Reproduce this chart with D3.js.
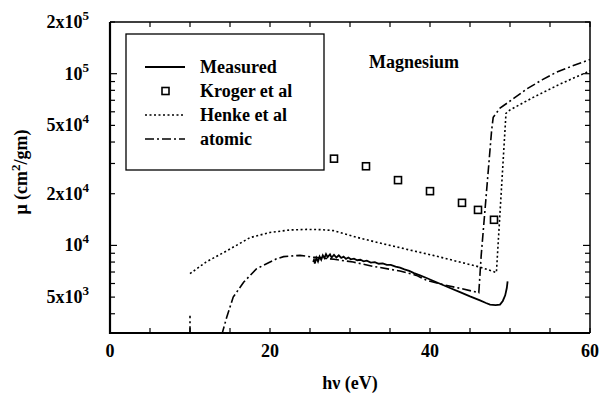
<!DOCTYPE html>
<html lang="en">
<head>
<meta charset="UTF-8">
<script src="https://cdn.jsdelivr.net/npm/d3@7"></script>
<title>Magnesium</title>
<style>
    body { margin: 0; background: white; }
    svg text { font-family: "Times New Roman", Times, "Liberation Serif", "DejaVu Serif", "Noto Serif", serif; font-weight: bold; fill: black; }
</style>
</head>
<body>
<div id="chart"></div>
<script>
    // measured absorption (noisy trace)
    const measured = [
        [25.4, 8000], [25.5, 8250], [25.6, 7850], [25.8, 8450], [26.0, 8050], [26.2, 8600],
        [26.4, 8250], [26.6, 8750], [26.8, 8450], [27.0, 8900], [27.2, 8550], [27.5, 8870],
        [27.7, 8500], [28.0, 8800], [28.3, 8500], [28.6, 8750], [28.9, 8450], [29.2, 8600],
        [29.5, 8350], [29.8, 8500], [30.1, 8300], [30.5, 8380], [30.9, 8200], [31.3, 8250],
        [31.7, 8080], [32.1, 8150], [32.6, 7950], [33.1, 8000], [33.6, 7820], [34.1, 7850],
        [34.6, 7700], [35.1, 7700], [35.7, 7520], [36.25, 7420], [36.8, 7250], [37.4, 7100],
        [38.0, 6900], [38.75, 6690], [39.5, 6480], [40.3, 6250], [41.25, 5980], [42.5, 5650],
        [43.75, 5350], [45.0, 5050], [46.25, 4790], [47.0, 4620], [47.5, 4520], [48.2, 4490],
        [48.75, 4520], [49.1, 4750], [49.4, 5120], [49.6, 5650], [49.7, 6170]
    ];

    // Kroger et al
    const kroger = [
        [28, 32000], [32, 28900], [36, 24000], [40, 20700], [44, 17700], [46, 16100], [48, 14100]
    ];

    // Henke et al
    const henke = [
        [10, 6850], [12, 8000], [14.6, 9300], [17.5, 11100], [20, 11900], [22.5, 12300],
        [24.6, 12400], [26.5, 12350], [27.9, 12200], [31, 11100], [34.2, 10200], [37.5, 9400],
        [40.4, 8750], [43.5, 8050], [46.25, 7480], [48.3, 6950], [49.5, 58800], [50, 61500],
        [52.9, 72800], [56.25, 87000], [59.6, 102000], [60, 104000]
    ];

    // atomic calculation
    const atomicLow = [[10, 3000], [10, 3900]];
    const atomic = [
        [13.96, 3000], [14.6, 3830], [15.4, 5000], [16.7, 6100], [18.3, 7300], [20.8, 8350],
        [21.7, 8600], [23.75, 8750], [25.4, 8550], [28, 8300], [30.4, 8000], [32.9, 7550],
        [36.25, 7100], [38.3, 6690], [39.6, 6260], [41.7, 5900], [43.8, 5620], [46.1, 5300],
        [46.4, 8750], [47.7, 46600], [47.9, 55700], [48.75, 63000], [50.5, 72000],
        [52.1, 81500], [54, 92000], [55.8, 102000], [57.8, 111000], [60, 121000]
    ];

    const legendItems = ["Measured", "Kroger et al", "Henke et al", "atomic"];
    const xTickLabels = [0, 20, 40, 60];
    const yTickLabels = [
        { v: 2e5, base: "2x10", exp: "5" },
        { v: 1e5, base: "10", exp: "5" },
        { v: 5e4, base: "5x10", exp: "4" },
        { v: 2e4, base: "2x10", exp: "4" },
        { v: 1e4, base: "10", exp: "4" },
        { v: 5e3, base: "5x10", exp: "3" }
    ];

    const width = 600, height = 407;
    const margin = { left: 110, right: 10, top: 22, bottom: 74 };
    const plotW = width - margin.left - margin.right;
    const plotH = height - margin.top - margin.bottom;

    const svg = d3.select("#chart").append("svg")
        .attr("width", width)
        .attr("height", height);

    const x = d3.scaleLinear().domain([0, 60]).range([0, plotW]);
    const y = d3.scaleLog().domain([3090, 2e5]).range([plotH, 0]);

    const g = svg.append("g").attr("transform", `translate(${margin.left},${margin.top})`);

    g.append("clipPath").attr("id", "clip")
        .append("rect").attr("width", plotW).attr("height", plotH);

    // minor ticks on log axis
    const yTicks = [];
    for (let e = 3; e <= 5; e++) {
        for (let m = 1; m <= 9; m++) {
            const v = m * Math.pow(10, e);
            if (v >= 3090 && v <= 2e5) yTicks.push(v);
        }
    }
    const xTicks = d3.range(0, 61, 5);

    const ticks = g.append("g").attr("stroke", "black").attr("stroke-width", 1.2);
    xTicks.forEach(t => {
        ticks.append("line").attr("x1", x(t)).attr("x2", x(t)).attr("y1", plotH).attr("y2", plotH - 5);
        ticks.append("line").attr("x1", x(t)).attr("x2", x(t)).attr("y1", 0).attr("y2", 5);
    });
    yTicks.forEach(t => {
        const len = (t === 1e4 || t === 1e5) ? 7 : 5;
        ticks.append("line").attr("x1", 0).attr("x2", len).attr("y1", y(t)).attr("y2", y(t));
        ticks.append("line").attr("x1", plotW).attr("x2", plotW - len).attr("y1", y(t)).attr("y2", y(t));
    });

    // frame
    g.append("path")
        .attr("d", `M0,0H${plotW}V${plotH}`)
        .attr("fill", "none").attr("stroke", "black").attr("stroke-width", 1.5);
    g.append("path")
        .attr("d", `M0,0V${plotH}H${plotW}`)
        .attr("fill", "none").attr("stroke", "black").attr("stroke-width", 2.2);

    // tick labels
    xTickLabels.forEach(t => {
        g.append("text").attr("x", x(t)).attr("y", plotH + 24)
            .attr("text-anchor", "middle").attr("font-size", 18).text(t);
    });
    yTickLabels.forEach(d => {
        const t = g.append("text").attr("x", -21).attr("y", y(d.v) + 6)
            .attr("text-anchor", "end").attr("font-size", 18);
        t.append("tspan").text(d.base);
        t.append("tspan").attr("dy", -8).attr("font-size", 13).text(d.exp);
    });

    // axis titles
    svg.append("text").attr("x", 350).attr("y", 389)
        .attr("text-anchor", "middle").attr("font-size", 18)
        .text("hν (eV)");
    const yt = svg.append("text")
        .attr("transform", "translate(27,172) rotate(-90)")
        .attr("text-anchor", "middle").attr("font-size", 18);
    yt.append("tspan").text("μ (cm");
    yt.append("tspan").attr("dy", -7).attr("font-size", 13).text("2");
    yt.append("tspan").attr("dy", 7).text("/gm)");

    const line = d3.line().x(d => x(d[0])).y(d => y(d[1]));
    const plot = g.append("g").attr("clip-path", "url(#clip)");

    plot.append("path").datum(henke).attr("d", line)
        .attr("fill", "none").attr("stroke", "black").attr("stroke-width", 1.6)
        .attr("stroke-dasharray", "2,2.5");
    plot.append("path").datum(atomic).attr("d", line)
        .attr("fill", "none").attr("stroke", "black").attr("stroke-width", 1.6)
        .attr("stroke-dasharray", "9,3,2,3");
    plot.append("path").datum(atomicLow).attr("d", line)
        .attr("fill", "none").attr("stroke", "black").attr("stroke-width", 1.6)
        .attr("stroke-dasharray", "9,3,2,3");
    plot.append("path").datum(measured).attr("d", line)
        .attr("fill", "none").attr("stroke", "black").attr("stroke-width", 1.8);
    plot.selectAll("rect.kroger").data(kroger).enter().append("rect")
        .attr("class", "kroger")
        .attr("x", d => x(d[0]) - 3.5).attr("y", d => y(d[1]) - 3.5)
        .attr("width", 7).attr("height", 7)
        .attr("fill", "white").attr("stroke", "black").attr("stroke-width", 1.6);

    // legend
    const lg = svg.append("g");
    lg.append("rect").attr("x", 126).attr("y", 34).attr("width", 198).attr("height", 136)
        .attr("fill", "white").attr("stroke", "black").attr("stroke-width", 1.3);
    const styles = [
        { dash: null, w: 1.8 },
        { square: true },
        { dash: "2,2.5", w: 1.6 },
        { dash: "9,3,2,3", w: 1.6 }
    ];
    legendItems.forEach((name, i) => {
        const ly = 67 + i * 24;
        const s = styles[i];
        if (s.square) {
            lg.append("rect").attr("x", 162).attr("y", ly - 3.5).attr("width", 7).attr("height", 7)
                .attr("fill", "white").attr("stroke", "black").attr("stroke-width", 1.6);
        } else {
            lg.append("line").attr("x1", 145).attr("x2", 185).attr("y1", ly).attr("y2", ly)
                .attr("stroke", "black").attr("stroke-width", s.w)
                .attr("stroke-dasharray", s.dash);
        }
        lg.append("text").attr("x", 200).attr("y", ly + 6).attr("font-size", 18).text(name);
    });

    svg.append("text").attr("x", 369).attr("y", 68).attr("font-size", 18).text("Magnesium");
</script>
</body>
</html>
